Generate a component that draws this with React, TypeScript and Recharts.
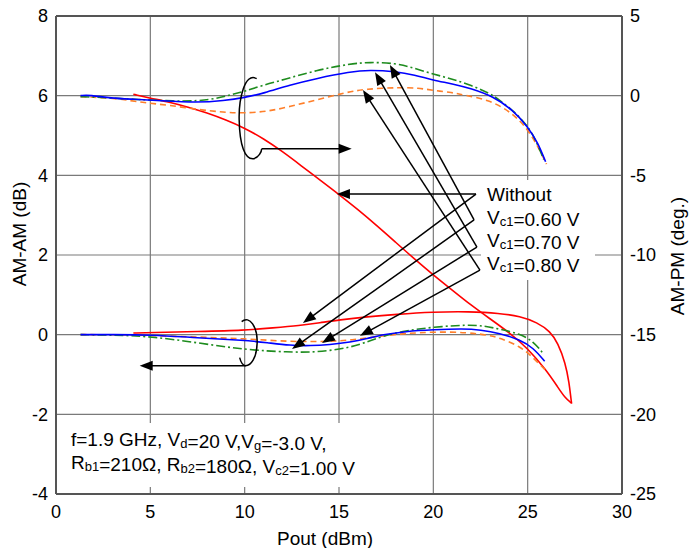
import React from 'react';
import { LineChart, Line, XAxis, YAxis, CartesianGrid, ReferenceLine } from 'recharts';

const W = 690;
const H = 548;
const PLOT = { left: 56, right: 622, top: 16, bottom: 494 };
const FONT = "'Liberation Sans', Arial, sans-serif";

const xTicks = [0, 5, 10, 15, 20, 25, 30];
const amamTicks = [-4, -2, 0, 2, 4, 6, 8];
const ampmTicks = [-25, -20, -15, -10, -5, 0, 5];

// AM-PM (deg.) series: [Pout dBm, deg]
const pmWithout: [number, number][] = [
  [4.1, 0.09], [5, -0.16], [6, -0.4], [7, -0.72], [8, -1.08], [9, -1.52], [10, -2.03], [11, -2.7],
  [12, -3.5], [13, -4.4], [14, -5.3], [15, -6.2], [16, -7.15], [17, -8.15], [18, -9.2], [19, -10.25],
  [20, -11.25], [21, -12.2], [22, -13.15], [23, -14.0], [24, -14.85], [25, -15.85], [26, -17.25],
  [26.6, -18.3], [27, -19.0], [27.33, -19.3],
];
const pmVc060: [number, number][] = [
  [1.3, -0.06], [2.3, -0.1], [3.9, -0.22], [5, -0.27], [6.75, -0.37], [8.2, -0.27], [9.2, 0.04],
  [10, 0.27], [11, 0.67], [12, 0.98], [13.8, 1.6], [15.6, 2.0], [16.6, 2.1], [18, 2.05], [19, 1.72],
  [20, 1.35], [21, 1.05], [22, 0.65], [23, 0.15], [23.5, -0.27], [24.4, -1.1], [25, -1.93],
  [25.4, -2.7], [25.85, -4.0],
];
const pmVc070: [number, number][] = [
  [1.3, 0], [1.8, 0.04], [2.9, -0.16], [4.1, -0.22], [5.5, -0.31], [7.5, -0.44], [8.9, -0.31],
  [10, -0.12], [11, 0.15], [12.4, 0.67], [13.8, 1.08], [15.6, 1.5], [16.6, 1.62], [18, 1.52],
  [19, 1.3], [20, 0.97], [21, 0.75], [22, 0.45], [23.2, -0.06], [24.2, -0.89], [25, -1.93],
  [25.55, -2.97], [25.95, -4.15],
];
const pmVc080: [number, number][] = [
  [1.3, -0.06], [3.2, -0.16], [4.6, -0.44], [5.9, -0.58], [7.6, -0.89], [8.9, -1.04], [9.9, -1.1],
  [11.2, -1.0], [12.4, -0.68], [13.8, -0.27], [15.4, 0.21], [16.4, 0.42], [18.2, 0.52], [19.2, 0.48],
  [20, 0.33], [21, 0.2], [21.6, 0.04], [23, -0.27], [24.2, -1.1], [24.95, -2.03], [25.55, -3.18],
  [26, -4.3],
];

// AM-AM (dB) series: [Pout dBm, dB]
const amWithout: [number, number][] = [
  [4.1, 0.04], [5, 0.05], [7.5, 0.08], [10, 0.11], [11.5, 0.17], [12.9, 0.23], [14, 0.3], [15, 0.37],
  [16.5, 0.45], [18, 0.51], [20, 0.57], [21.9, 0.58], [23.5, 0.54], [24.6, 0.46], [25.5, 0.31],
  [26.2, 0.08], [26.6, -0.21], [27, -0.71], [27.2, -1.21], [27.3, -1.63], [27.33, -1.73],
];
const amVc060: [number, number][] = [
  [1.3, 0], [3, -0.01], [5, -0.04], [7.6, -0.21], [10, -0.38], [12.4, -0.44], [13.5, -0.44],
  [14.5, -0.4], [15.6, -0.32], [16.5, -0.18], [17.3, -0.04], [18.5, 0.1], [20, 0.19], [21.8, 0.25],
  [22.7, 0.22], [23.5, 0.14], [24.6, 0.02], [25.3, -0.17], [25.8, -0.46],
];
const amVc070: [number, number][] = [
  [1.3, 0], [3, 0], [5, 0], [7.5, -0.08], [10, -0.14], [11.2, -0.2], [12.4, -0.27], [13.5, -0.28],
  [14.5, -0.25], [15.6, -0.19], [16.5, -0.1], [17.3, 0], [18.5, 0.08], [20, 0.125], [21.6, 0.15],
  [22.5, 0.12], [23.5, 0.04], [24.6, -0.13], [25.3, -0.33], [25.9, -0.67],
];
const amVc080: [number, number][] = [
  [1.3, 0], [3, 0], [5, -0.02], [7.5, -0.06], [10, -0.1], [12.4, -0.18], [14.5, -0.17], [15.6, -0.14],
  [17.3, -0.03], [18.5, 0.03], [20, 0.07], [21.8, 0.06], [23, -0.02], [23.5, -0.08], [24.6, -0.29],
  [25.3, -0.58], [26, -0.92],
];

const legendLabels = ['Without', '0.60 V', '0.70 V', '0.80 V'];

// annotation anchors in data units (Pout, AM-AM dB)
const labelVertices = [
  { x: 22.26, y: 3.53 }, { x: 22.16, y: 2.88 }, { x: 22.31, y: 2.2 }, { x: 22.47, y: 1.62 },
];
const topTips = [
  { x: 14.89, y: 3.53 }, { x: 17.7, y: 6.77 }, { x: 16.91, y: 6.59 }, { x: 16.27, y: 6.14 },
];
const bottomTips = [
  { x: 13.09, y: 0.29 }, { x: 12.51, y: -0.36 }, { x: 14.1, y: -0.21 }, { x: 16.11, y: -0.03 },
];

const COLORS = { red: '#ff0000', green: '#1e8c1e', blue: '#0000ff', orange: '#ff7f2a' };

const toPts = (arr: [number, number][]) => arr.map(([x, y]) => ({ x, y }));

const sx = (x: number) => PLOT.left + (x / 30) * (PLOT.right - PLOT.left);
const sy = (db: number) => PLOT.top + ((8 - db) / 12) * (PLOT.bottom - PLOT.top);

function Arrow({ x1, y1, x2, y2 }: { x1: number; y1: number; x2: number; y2: number }) {
  const dx = x2 - x1;
  const dy = y2 - y1;
  const L = Math.hypot(dx, dy);
  const ux = dx / L;
  const uy = dy / L;
  const hl = 13;
  const hw = 5;
  const bx = x2 - ux * hl;
  const by = y2 - uy * hl;
  const pts = `${x2},${y2} ${bx - uy * hw},${by + ux * hw} ${bx + uy * hw},${by - ux * hw}`;
  return (
    <g>
      <line x1={x1} y1={y1} x2={bx + ux * 2} y2={by + uy * 2} stroke="#000" strokeWidth={1.5} />
      <polygon points={pts} fill="#000" />
    </g>
  );
}

function Sub({ children }: { children: React.ReactNode }) {
  return (
    <>
      <tspan fontSize={13} dy={2}>{children}</tspan>
      <tspan dy={-2}>{''}</tspan>
    </>
  );
}

function Overlay() {
  const a1x = sx(10);
  const a1y = sy(6);
  const a2x = sx(10);
  const a2y = sy(0);
  const tx = 487;
  const baselines = [200.7, 223.5, 247, 270];
  return (
    <svg width={W} height={H} style={{ position: 'absolute', left: 0, top: 0, pointerEvents: 'none' }} fontFamily={FONT}>
      {/* text backgrounds */}
      <rect x={481} y={180} width={114} height={100} fill="#fff" />
      <rect x={62} y={423} width={283} height={64} fill="#fff" />

      {/* top loop */}
      <path
        d={`M ${a1x + 12} ${a1y - 17} C ${a1x} ${a1y - 24}, ${a1x - 6} ${a1y + 4}, ${a1x - 5.5} ${a1y + 24} C ${a1x - 5} ${a1y + 49}, ${a1x} ${a1y + 64}, ${a1x + 9} ${a1y + 63} C ${a1x + 14} ${a1y + 62}, ${a1x + 17} ${a1y + 56}, ${a1x + 17} ${a1y + 53}`}
        fill="none" stroke="#000" strokeWidth={1.5}
      />
      <Arrow x1={a1x + 17} y1={a1y + 53} x2={a1x + 107} y2={a1y + 53} />
      {/* bottom loop */}
      <path
        d={`M ${a2x - 3} ${a2y - 13} C ${a2x + 5} ${a2y - 20}, ${a2x + 13} ${a2y - 7}, ${a2x + 12.5} ${a2y + 8} C ${a2x + 12} ${a2y + 24}, ${a2x + 6} ${a2y + 31}, ${a2x + 1} ${a2y + 31} C ${a2x - 2} ${a2y + 31}, ${a2x - 4} ${a2y + 27}, ${a2x - 5} ${a2y + 23}`}
        fill="none" stroke="#000" strokeWidth={1.5}
      />
      <Arrow x1={a2x + 1} y1={a2y + 31} x2={a2x - 105} y2={a2y + 31} />

      {/* label arrows */}
      {labelVertices.map((v, i) => (
        <g key={i}>
          <Arrow x1={sx(v.x)} y1={sy(v.y)} x2={sx(topTips[i].x)} y2={sy(topTips[i].y)} />
          <Arrow x1={sx(v.x)} y1={sy(v.y)} x2={sx(bottomTips[i].x)} y2={sy(bottomTips[i].y)} />
        </g>
      ))}

      {/* labels */}
      <text x={tx} y={baselines[0]} fontSize={19} fill="#000">{legendLabels[0]}</text>
      {legendLabels.slice(1).map((l, i) => (
        <text key={l} x={tx} y={baselines[i + 1]} fontSize={19} fill="#000">
          V<Sub>c1</Sub>={l}
        </text>
      ))}

      <text x={71} y={446} fontSize={19} fill="#000">
        f=1.9 GHz, V<Sub>d</Sub>=20 V,V<Sub>g</Sub>=-3.0 V,
      </text>
      <text x={71} y={468.5} fontSize={19} fill="#000">
        R<Sub>b1</Sub>=210Ω, R<Sub>b2</Sub>=180Ω, V<Sub>c2</Sub>=1.00 V
      </text>

      {/* axis titles */}
      <text x={325} y={545} fontSize={19} textAnchor="middle" fill="#000">Pout (dBm)</text>
      <text x={19} y={234} fontSize={19} textAnchor="middle" dominantBaseline="central" transform="rotate(-90 19 234)" fill="#000">AM-AM (dB)</text>
      <text x={677} y={256} fontSize={19} textAnchor="middle" dominantBaseline="central" transform="rotate(-90 677 256)" fill="#000">AM-PM (deg.)</text>
    </svg>
  );
}

const tickStyle = { fontSize: 18, fill: '#000', fontFamily: FONT };
const axisLine = { stroke: '#555', strokeWidth: 2 };
const CURVE = 'basis' as const;

export default function App() {
  return (
    <div style={{ position: 'absolute', left: 0, top: 0, width: W, height: H, background: '#fff', fontFamily: FONT }}>
      <LineChart width={W} height={H} margin={{ top: PLOT.top, right: 0, bottom: 0, left: 0 }}>
        <CartesianGrid yAxisId="l" stroke="#7a7a7a" strokeWidth={1.2} />
        <XAxis
          dataKey="x" type="number" domain={[0, 30]} ticks={xTicks} allowDataOverflow
          height={H - PLOT.bottom} tickLine={false} tickMargin={5} tick={tickStyle} axisLine={axisLine}
        />
        <YAxis
          yAxisId="l" domain={[-4, 8]} ticks={amamTicks} allowDataOverflow width={PLOT.left}
          tickLine={false} tick={tickStyle} axisLine={axisLine} interval={0}
        />
        <YAxis
          yAxisId="r" orientation="right" domain={[-25, 5]} ticks={ampmTicks} allowDataOverflow
          width={W - PLOT.right} tickLine={false} tick={{ ...tickStyle, textAnchor: 'start' }} axisLine={axisLine} interval={0}
        />
        <ReferenceLine yAxisId="l" y={8} stroke="#555" strokeWidth={2} />

        <Line yAxisId="r" data={toPts(pmWithout)} dataKey="y" type={CURVE} stroke={COLORS.red} strokeWidth={1.6} dot={false} isAnimationActive={false} />
        <Line yAxisId="r" data={toPts(pmVc080)} dataKey="y" type={CURVE} stroke={COLORS.orange} strokeWidth={1.6} strokeDasharray="6 4" dot={false} isAnimationActive={false} />
        <Line yAxisId="r" data={toPts(pmVc060)} dataKey="y" type={CURVE} stroke={COLORS.green} strokeWidth={1.6} strokeDasharray="9 3 2 3" dot={false} isAnimationActive={false} />
        <Line yAxisId="r" data={toPts(pmVc070)} dataKey="y" type={CURVE} stroke={COLORS.blue} strokeWidth={1.6} dot={false} isAnimationActive={false} />

        <Line yAxisId="l" data={toPts(amWithout)} dataKey="y" type={CURVE} stroke={COLORS.red} strokeWidth={1.6} dot={false} isAnimationActive={false} />
        <Line yAxisId="l" data={toPts(amVc080)} dataKey="y" type={CURVE} stroke={COLORS.orange} strokeWidth={1.6} strokeDasharray="6 4" dot={false} isAnimationActive={false} />
        <Line yAxisId="l" data={toPts(amVc060)} dataKey="y" type={CURVE} stroke={COLORS.green} strokeWidth={1.6} strokeDasharray="9 3 2 3" dot={false} isAnimationActive={false} />
        <Line yAxisId="l" data={toPts(amVc070)} dataKey="y" type={CURVE} stroke={COLORS.blue} strokeWidth={1.6} dot={false} isAnimationActive={false} />
      </LineChart>
      <Overlay />
    </div>
  );
}
